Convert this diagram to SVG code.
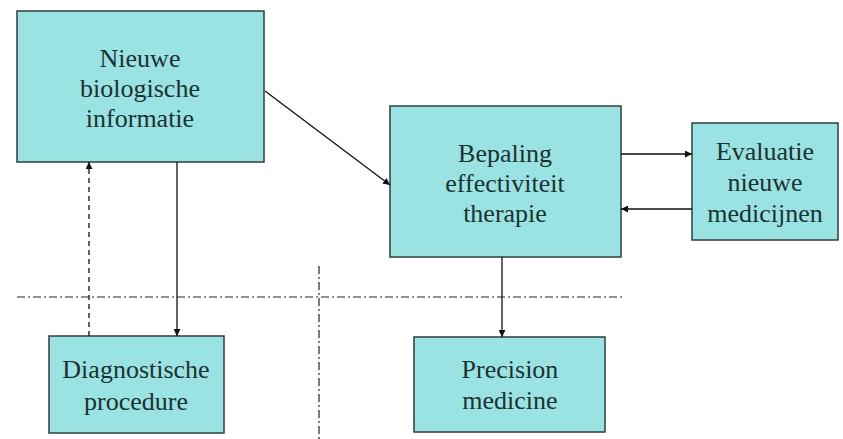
<svg xmlns="http://www.w3.org/2000/svg" width="843" height="439" viewBox="0 0 843 439">
<style>
.box{fill:#9be3e3;stroke:#2f3f3f;stroke-width:1.5}
.t{font-family:'Liberation Serif','Times New Roman','DejaVu Serif',serif;font-size:26px;fill:#1a3232;text-anchor:middle}
.c{stroke:#111;stroke-width:1.3;fill:none}
.d{stroke:#111;stroke-width:1.3;fill:none;stroke-dasharray:5 4}
.dd{stroke:#222;stroke-width:1.2;fill:none;stroke-dasharray:8 3 2 3}
</style>
<defs>
<marker id="ah" viewBox="0 0 10 10" refX="10" refY="5" markerWidth="7" markerHeight="7" orient="auto" markerUnits="userSpaceOnUse"><path d="M0,0 L10,5 L0,10 z" fill="#111"/></marker>
</defs>
<g id="n1"><rect class="box" x="17" y="11" width="247" height="151"/><text class="t" x="140" y="67">Nieuwe</text><text class="t" x="140" y="97">biologische</text><text class="t" x="140" y="127">informatie</text></g>
<g id="n2"><rect class="box" x="390" y="106" width="231" height="151"/><text class="t" x="505" y="162">Bepaling</text><text class="t" x="505" y="192">effectiviteit</text><text class="t" x="505" y="222">therapie</text></g>
<g id="n3"><rect class="box" x="692" y="123" width="146" height="117"/><text class="t" x="765" y="160">Evaluatie</text><text class="t" x="765" y="191">nieuwe</text><text class="t" x="765" y="222">medicijnen</text></g>
<g id="n4"><rect class="box" x="49" y="336" width="175" height="97"/><text class="t" x="136" y="378">Diagnostische</text><text class="t" x="136" y="410">procedure</text></g>
<g id="n5"><rect class="box" x="414" y="337" width="191" height="95"/><text class="t" x="510" y="378">Precision</text><text class="t" x="510" y="409">medicine</text></g>
<g id="connectors">
<line class="c" x1="265" y1="91" x2="390" y2="185" marker-end="url(#ah)"/>
<line class="c" x1="177" y1="162" x2="177" y2="336" marker-end="url(#ah)"/>
<line class="d" x1="89" y1="336" x2="89" y2="162" marker-end="url(#ah)"/>
<line class="c" x1="502" y1="257" x2="502" y2="337" marker-end="url(#ah)"/>
<line class="c" x1="621" y1="154" x2="692" y2="154" marker-end="url(#ah)"/>
<line class="c" x1="692" y1="209" x2="621" y2="209" marker-end="url(#ah)"/>
<line class="dd" x1="17" y1="297" x2="622" y2="297"/>
<line class="dd" x1="319" y1="266" x2="319" y2="439"/>
</g>
</svg>
